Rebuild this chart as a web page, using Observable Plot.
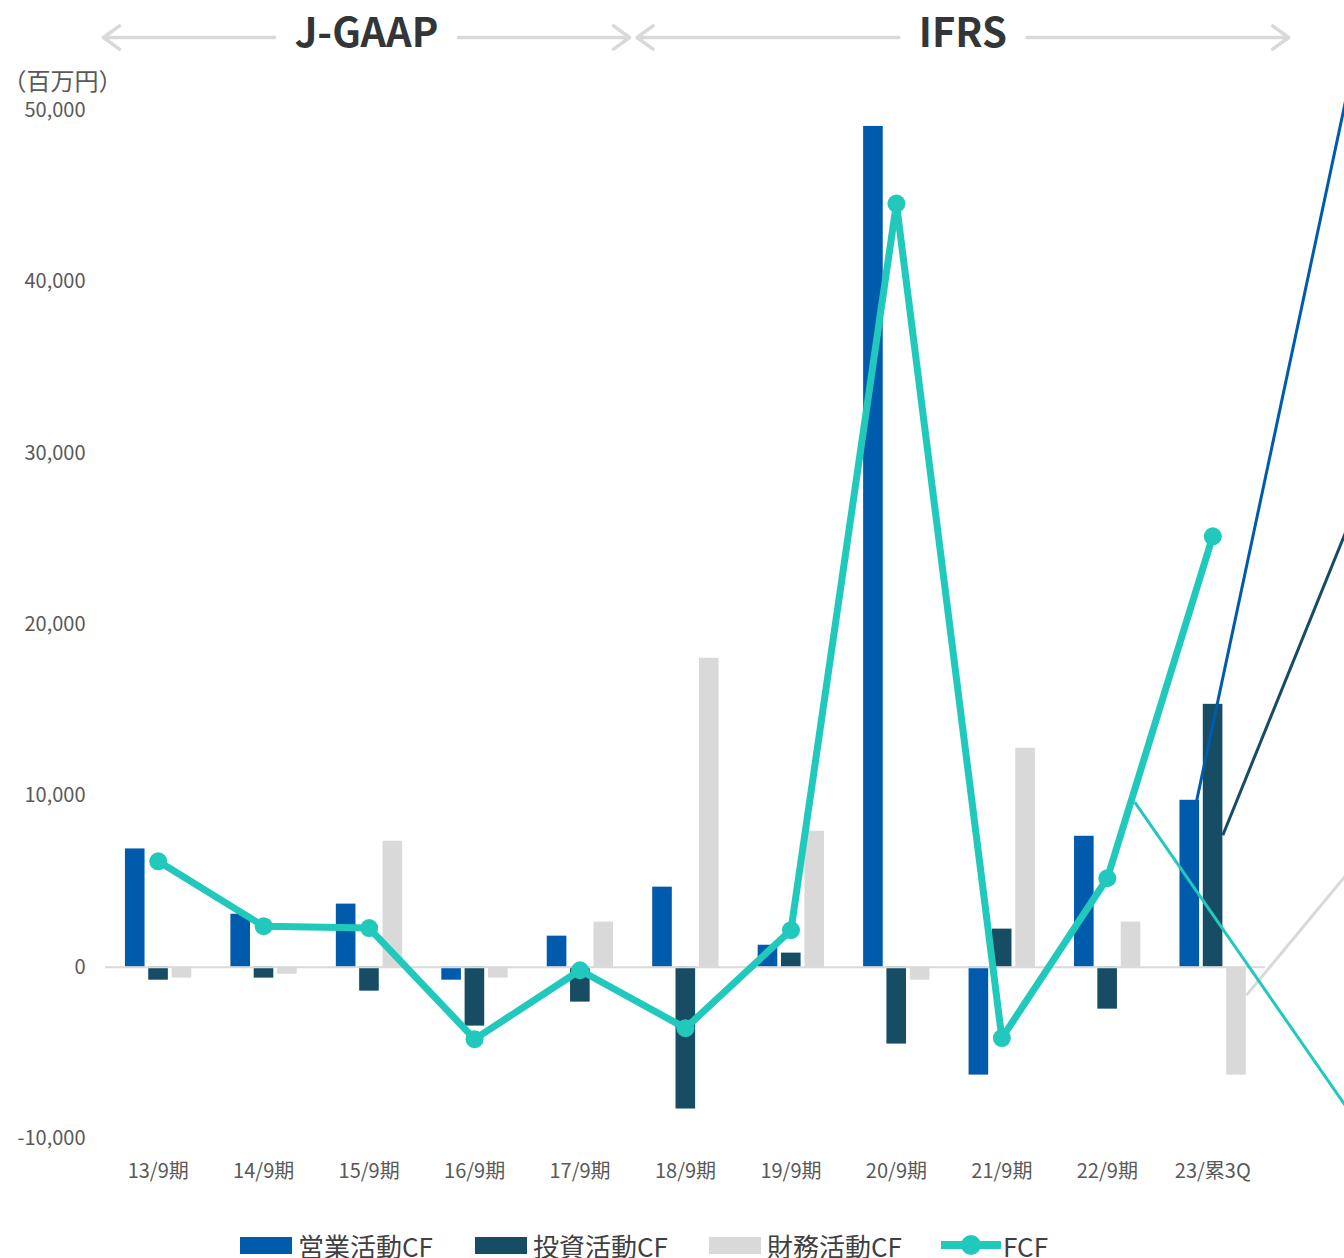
<!DOCTYPE html>
<html><head><meta charset="utf-8">
<script src="https://cdn.jsdelivr.net/npm/d3@7"></script>
<script src="https://cdn.jsdelivr.net/npm/@observablehq/plot@0.6"></script>
<style>
html,body{margin:0;padding:0;background:#fff;overflow:hidden;}
body{font-family:"Noto Sans CJK JP","Noto Sans",sans-serif;width:1344px;}
#legend{position:relative;height:60px;width:1344px;}
.item{position:absolute;top:22px;height:36px;display:flex;align-items:center;font-size:26px;color:#404040;white-space:nowrap;}
.sw{width:52px;height:17px;margin-right:6px;}
</style></head><body>
<div id="chart"></div>
<div id="legend"></div>
<script>
// ---- data ----
const categories = ["13/9期","14/9期","15/9期","16/9期","17/9期","18/9期","19/9期","20/9期","21/9期","22/9期","23/累3Q"];
const operatingCF = [6900, 3090, 3680, -760, 1810, 4670, 1280, 49070, -6300, 7640, 9740];
const investingCF = [-760, -640, -1400, -3440, -2040, -8280, 820, -4490, 2220, -2450, 15340];
const financingCF = [-640, -410, 7350, -640, 2630, 18030, 7930, -760, 12780, 2630, -6300];
const fcf = [6180, 2390, 2280, -4200, -180, -3560, 2160, 44570, -4140, 5190, 25150];
const seriesNames = ["営業活動CF", "投資活動CF", "財務活動CF", "FCF"];
const seriesColors = ["#005bac", "#164d64", "#d9d9d9", "#21c9bc"];
const yTicks = [-10000, 0, 10000, 20000, 30000, 40000, 50000];
const unitLabel = "（百万円）";
// accounting-standard eras (x in category index units)
const eraLabels = ["J-GAAP", "IFRS"];
const eraStart = [-0.52, 4.54];
const eraEnd = [4.47, 10.72];
const eraGap = [92, 64];
// stray leader lines (series index, start, end) in data units
const leaderSeries = [0, 1, 2, 3];
const leaderX1 = [9.848, 10.095, 10.32, 9.26];
const leaderY1 = [9740, 7700, -1630, 9630];
const leaderX2 = [11.4, 11.4, 11.4, 11.4];
const leaderY2 = [54630, 27520, 6380, -9350];

// ---- build tables ----
const barOffset = [-0.218, 0.003, 0.225];
const barWidth = 0.186;
const barSeries = [operatingCF, investingCF, financingCF];
const bars = [];
barSeries.forEach((vals, k) => vals.forEach((v, i) => bars.push({
  s: seriesNames[k], x1: i + barOffset[k] - barWidth / 2, x2: i + barOffset[k] + barWidth / 2, y1: 0, y2: v
})));
const line = fcf.map((v, i) => ({i, v}));
const eras = eraLabels.map((label, k) => ({label, start: eraStart[k], end: eraEnd[k], mid: (eraStart[k] + eraEnd[k]) / 2, gap: eraGap[k]}));
const leaders = leaderSeries.map((s, k) => ({s: seriesNames[s], x1: leaderX1[k], y1: leaderY1[k], x2: leaderX2[k], y2: leaderY2[k]}));
const headerY = 54260;

const color = {domain: seriesNames, range: seriesColors};

const arrowMarks = [];
eras.forEach(e => {
  ["start", "end"].forEach(side => {
    arrowMarks.push(Plot.arrow([e], {x1: "mid", x2: side, y1: headerY, y2: headerY, insetStart: e.gap, stroke: "#d9d9d9", strokeWidth: 3.5, bend: 0, headAngle: 72, headLength: 8.5}));
  });
});

const chart = Plot.plot({
  width: 1344,
  height: 1205,
  marginLeft: 105,
  marginRight: 79,
  marginTop: 110,
  marginBottom: 67,
  x: {domain: [-0.5, 10.5]},
  y: {domain: [-10000, 50000]},
  color,
  style: {fontFamily: '"Noto Sans CJK JP","Noto Sans",sans-serif', fontSize: "20px", color: "#595959", background: "white", overflow: "hidden"},
  marks: [
    Plot.axisY({ticks: yTicks, tickFormat: d => d.toLocaleString("en-US"), tickSize: 0, tickPadding: 20, label: null, fontSize: 20}),
    Plot.axisX({ticks: d3.range(categories.length), tickFormat: i => categories[i], tickSize: 0, tickPadding: 25, label: null, fontSize: 20}),
    Plot.rect(bars, {x1: "x1", x2: "x2", y1: "y1", y2: "y2", fill: "s"}),
    Plot.ruleY([0], {stroke: "#d9d9d9", strokeWidth: 2}),
    Plot.link(leaders, {x1: "x1", y1: "y1", x2: "x2", y2: "y2", stroke: "s", strokeWidth: 3}),
    Plot.line(line, {x: "i", y: "v", stroke: seriesColors[3], strokeWidth: 7, strokeLinejoin: "round"}),
    Plot.dot(line, {x: "i", y: "v", r: 9, fill: seriesColors[3]}),
    ...arrowMarks,
    Plot.text(eras, {x: "mid", y: headerY, text: "label", fontSize: 40, fontWeight: "bold", fill: "#333639", dy: -3}),
    Plot.text([unitLabel], {frameAnchor: "top-left", dx: -103, dy: -38, textAnchor: "start", fontSize: 24, fill: "#595959", text: d => d})
  ]
});
document.getElementById("chart").append(chart);

// ---- legend ----
const legend = document.getElementById("legend");
const lefts = [240, 475, 709, 941];
seriesNames.forEach((name, k) => {
  const item = document.createElement("div");
  item.className = "item";
  item.style.left = lefts[k] + "px";
  if (k < 3) {
    const sw = document.createElement("div");
    sw.className = "sw";
    sw.style.background = seriesColors[k];
    item.append(sw);
  } else {
    const ns = "http://www.w3.org/2000/svg";
    const svg = document.createElementNS(ns, "svg");
    svg.setAttribute("width", 60); svg.setAttribute("height", 24);
    svg.style.marginRight = "2px";
    const l = document.createElementNS(ns, "line");
    l.setAttribute("x1", 0); l.setAttribute("x2", 60); l.setAttribute("y1", 12); l.setAttribute("y2", 12);
    l.setAttribute("stroke", seriesColors[3]); l.setAttribute("stroke-width", 8); l.setAttribute("stroke-linecap", "round");
    const c = document.createElementNS(ns, "circle");
    c.setAttribute("cx", 30); c.setAttribute("cy", 12); c.setAttribute("r", 10); c.setAttribute("fill", seriesColors[3]);
    svg.append(l, c);
    item.append(svg);
  }
  const t = document.createElement("span");
  t.textContent = name;
  item.append(t);
  legend.append(item);
});
</script>
</body></html>
